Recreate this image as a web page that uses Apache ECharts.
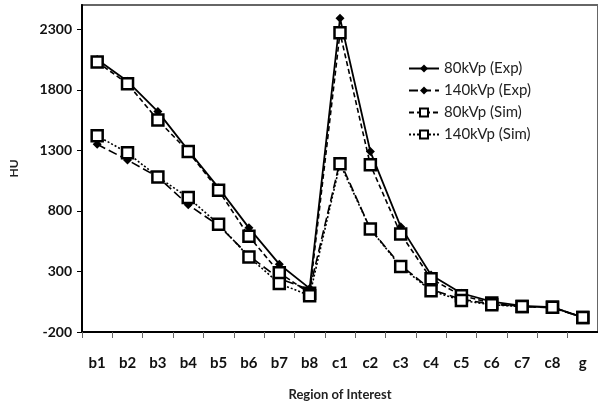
<!DOCTYPE html>
<html>
<head>
<meta charset="utf-8">
<script src="https://cdn.jsdelivr.net/npm/echarts@6/dist/echarts.min.js"></script>
<style>
html, body { margin: 0; padding: 0; background: #fff; }
#chart { width: 598px; height: 406px; }
</style>
</head>
<body>
<div id="chart"></div>
<script>
var regions = ['b1', 'b2', 'b3', 'b4', 'b5', 'b6', 'b7', 'b8', 'c1', 'c2', 'c3', 'c4', 'c5', 'c6', 'c7', 'c8', 'g'];
var exp80 = [2050, 1870, 1620, 1300, 990, 660, 360, 160, 2390, 1290, 670, 270, 120, 50, 15, 5, -80];
var exp140 = [1350, 1220, 1080, 850, 680, 430, 240, 150, 1210, 650, 350, 150, 70, 30, 10, 0, -80];
var sim80 = [2030, 1850, 1550, 1290, 970, 590, 290, 120, 2270, 1180, 610, 240, 100, 40, 10, 5, -80];
var sim140 = [1420, 1280, 1080, 910, 690, 420, 200, 100, 1190, 650, 340, 140, 60, 25, 10, 5, -80];

var myChart = echarts.init(document.getElementById('chart'));

var sq = { color: '#fff', borderColor: '#000', borderWidth: 2.5 };

var option = {
    animation: false,
    textStyle: { fontFamily: 'Lato' },
    grid: {
        left: 82, top: 5, right: -4, bottom: 70,
        show: true, borderColor: '#666', borderWidth: 2
    },
    legend: {
        orient: 'vertical',
        left: 403, top: 56,
        itemWidth: 30, itemHeight: 10, itemGap: 7,
        textStyle: { fontSize: 15, color: '#222', fontFamily: 'Lato' },
        data: ['80kVp (Exp)', '140kVp (Exp)', '80kVp (Sim)', '140kVp (Sim)']
    },
    xAxis: {
        type: 'category',
        data: regions,
        name: 'Region of Interest',
        nameLocation: 'middle',
        nameGap: 56,
        nameTextStyle: { fontSize: 13, fontWeight: 'bold', color: '#222' },
        axisLine: { onZero: false, lineStyle: { color: '#000', width: 2 } },
        axisTick: { show: true, length: 6, lineStyle: { color: '#666' } },
        axisLabel: { fontSize: 15, fontWeight: 'bold', color: '#111', margin: 24 }
    },
    yAxis: {
        type: 'value',
        min: -200, max: 2500, interval: 500,
        name: 'HU',
        nameLocation: 'middle',
        nameGap: 62,
        nameTextStyle: { fontSize: 12, fontWeight: 'bold', color: '#222' },
        splitLine: { show: false },
        axisLine: { show: true, lineStyle: { color: '#000', width: 2 } },
        axisTick: { show: true, length: 5, lineStyle: { color: '#000' } },
        axisLabel: {
            fontSize: 14, fontWeight: 'bold', color: '#111', margin: 10, showMaxLabel: false,
            formatter: function (v) { return String(v); }
        }
    },
    series: [
        {
            name: '80kVp (Exp)', type: 'line', data: exp80,
            symbol: 'diamond', symbolSize: 9,
            itemStyle: { color: '#000' },
            lineStyle: { color: '#000', width: 1.8, type: 'solid' }
        },
        {
            name: '140kVp (Exp)', type: 'line', data: exp140,
            symbol: 'diamond', symbolSize: 9,
            itemStyle: { color: '#000' },
            lineStyle: { color: '#000', width: 1.6, type: [9, 4] }
        },
        {
            name: '80kVp (Sim)', type: 'line', data: sim80,
            symbol: 'rect', symbolSize: 11,
            itemStyle: sq,
            lineStyle: { color: '#000', width: 1.6, type: [5, 3] }
        },
        {
            name: '140kVp (Sim)', type: 'line', data: sim140,
            symbol: 'rect', symbolSize: 11,
            itemStyle: sq,
            lineStyle: { color: '#000', width: 1.6, type: [2, 2] }
        }
    ]
};

myChart.setOption(option);
</script>
</body>
</html>
